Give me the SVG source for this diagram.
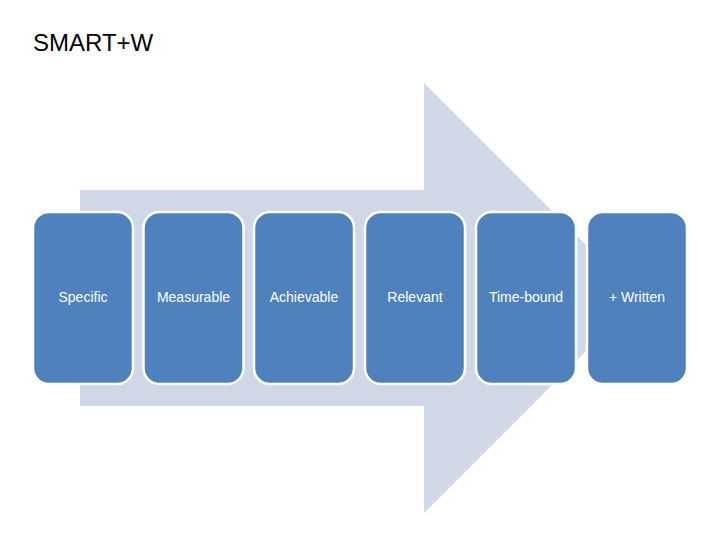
<svg xmlns="http://www.w3.org/2000/svg" width="720" height="540" viewBox="0 0 720 540">
<style>
.box{fill:#4F81BD;stroke:#FFFFFF;stroke-width:2.5}
.lbl{fill:#FFFFFF;font-family:"Liberation Sans",Arial,sans-serif;font-size:14px;text-anchor:middle}
.title{fill:#000000;font-family:"Liberation Sans",Arial,sans-serif;font-size:24px}
</style>
<rect width="720" height="540" fill="#FFFFFF"/>
<text class="title" x="33" y="51">SMART+W</text>
<g id="arrow">
<polygon points="80,190 424,190 424,83 639,298 424,513 424,406 80,406" fill="#D0D8E8"/>
</g>
<g id="specific"><rect class="box" x="33" y="212" width="100" height="172" rx="16"/><text class="lbl" x="83" y="302">Specific</text></g>
<g id="measurable"><rect class="box" x="143.5" y="212" width="100" height="172" rx="16"/><text class="lbl" x="193.5" y="302">Measurable</text></g>
<g id="achievable"><rect class="box" x="254" y="212" width="100" height="172" rx="16"/><text class="lbl" x="304" y="302">Achievable</text></g>
<g id="relevant"><rect class="box" x="365" y="212" width="100" height="172" rx="16"/><text class="lbl" x="415" y="302">Relevant</text></g>
<g id="timebound"><rect class="box" x="476" y="212" width="100" height="172" rx="16"/><text class="lbl" x="526" y="302">Time-bound</text></g>
<g id="written"><rect class="box" x="587" y="212" width="100" height="172" rx="16"/><text class="lbl" x="637" y="302">+ Written</text></g>
<g id="connectors"></g>
</svg>
